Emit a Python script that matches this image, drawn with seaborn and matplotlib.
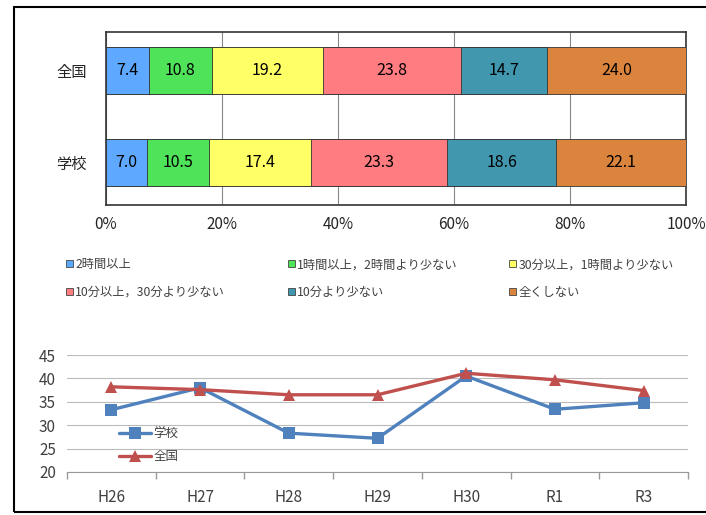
import matplotlib
matplotlib.use("Agg")
import matplotlib.pyplot as plt
import matplotlib.patches as mpatches
import seaborn as sns
import numpy as np
import pandas as pd

# ---- data ----
groups = ["全国", "学校"]
categories = ["2時間以上", "1時間以上，2時間より少ない", "30分以上，1時間より少ない",
              "10分以上，30分より少ない", "10分より少ない", "全くしない"]
zenkoku_vals = [7.4, 10.8, 19.2, 23.8, 14.7, 24.0]
gakko_vals = [7.0, 10.5, 17.4, 23.3, 18.6, 22.1]
seg_colors = ["#5EA8FF", "#4FE35A", "#FFFF66", "#FF7C80", "#4097AE", "#DB843D"]

years = ["H26", "H27", "H28", "H29", "H30", "R1", "R3"]
gakko_line = [33.3, 38.0, 28.3, 27.2, 40.5, 33.4, 34.8]
zenkoku_line = [38.2, 37.6, 36.5, 36.5, 41.1, 39.7, 37.4]

sns.set_theme(style="white")
plt.rcParams['font.family'] = ['Noto Sans CJK JP', 'DejaVu Sans']

fig = plt.figure(figsize=(7.06, 5.15), dpi=100)

# outer frame
fig.patches.append(mpatches.Rectangle((14/706, 3/515), 1.0, 1 - 10/515, transform=fig.transFigure,
                                      fill=False, edgecolor="black", linewidth=1.5))

# ---- top 100% stacked bar ----
ax1 = fig.add_axes([106/706, 1 - 205/515, 580/706, 173/515])
vals = np.array([zenkoku_vals, gakko_vals])
shares = vals / vals.sum(axis=1, keepdims=True) * 100
cum = np.cumsum(shares, axis=1)
for i in range(len(categories) - 1, -1, -1):
    df = pd.DataFrame({"group": groups, "value": cum[:, i]})
    sns.barplot(data=df, x="value", y="group", orient="h", color=seg_colors[i],
                width=0.51, saturation=1, edgecolor="#333333", linewidth=0.6, ax=ax1, zorder=3)
for gi in range(2):
    left = 0
    for i in range(len(categories)):
        w = shares[gi, i]
        ax1.text(left + w / 2, gi, f"{vals[gi, i]:.1f}", ha="center", va="center", fontsize=11.5,
                 color="black", zorder=5)
        left += w
ax1.set_xlim(0, 100)
ax1.set_ylim(1.46, -0.42)
ax1.set_xticks([0, 20, 40, 60, 80, 100])
ax1.set_xticklabels([f"{t}%" for t in [0, 20, 40, 60, 80, 100]], fontsize=11)
ax1.tick_params(axis="x", pad=8, length=0)
ax1.tick_params(axis="y", pad=14, length=0, labelsize=11)
ax1.set_xlabel("")
ax1.set_ylabel("")
ax1.grid(axis="x", color="#888888", linewidth=0.8, zorder=0)
ax1.set_axisbelow(True)
for s in ax1.spines.values():
    s.set_visible(True)
    s.set_color("#333333")
    s.set_linewidth(1.2)

# ---- legend (row-major, three columns) ----
handles = [mpatches.Patch(facecolor=c, edgecolor="#444444", linewidth=0.6) for c in seg_colors]
col_x = [60/706, 282/706, 503/706]
for c in range(3):
    idx = [c, c + 3]
    leg = fig.legend([handles[j] for j in idx], [categories[j] for j in idx],
                     loc="upper left", bbox_to_anchor=(col_x[c], 1 - 252/515),
                     frameon=False, fontsize=8.8, handlelength=0.55, handleheight=0.55,
                     handletextpad=0.2, labelspacing=1.2, borderpad=0)
    for t in leg.get_texts():
        t.set_color("#404040")

# ---- bottom line chart ----
ax2 = fig.add_axes([67/706, 1 - 472/515, 621/706, 117/515])
line_df = pd.DataFrame({
    "year": years * 2,
    "value": gakko_line + zenkoku_line,
    "group": ["学校"] * len(years) + ["全国"] * len(years),
})
sns.lineplot(data=line_df, x="year", y="value", hue="group", style="group",
             hue_order=["学校", "全国"], style_order=["学校", "全国"],
             palette={"学校": "#4F81BD", "全国": "#C0504D"},
             markers={"学校": "s", "全国": "^"}, dashes=False,
             linewidth=2.4, markersize=9, markeredgewidth=0, ax=ax2, sort=False)
ax2.set_xlim(-0.5, 6.5)
ax2.set_ylim(20, 45)
ax2.set_yticks([20, 25, 30, 35, 40, 45])
ax2.grid(axis="y", color="#BBBBBB", linewidth=0.8)
ax2.set_axisbelow(True)
ax2.set_xlabel("")
ax2.set_ylabel("")
for s in ["left", "right", "top"]:
    ax2.spines[s].set_visible(False)
ax2.spines["bottom"].set_color("#999999")
ax2.spines["bottom"].set_linewidth(0.8)
ax2.set_xticks(np.arange(-0.5, 7, 1), minor=True)
ax2.tick_params(axis="x", which="minor", length=5, color="#999999", direction="out", bottom=True)
ax2.tick_params(axis="x", which="major", length=0, pad=12, labelsize=11, labelcolor="#404040")
ax2.tick_params(axis="y", length=0, pad=8, labelsize=11, labelcolor="#404040")
leg2 = ax2.legend(loc="lower left", bbox_to_anchor=(0.065, -0.02), frameon=False, fontsize=9,
                  handlelength=2.6, handletextpad=0.2, labelspacing=0.75)
for t in leg2.get_texts():
    t.set_color("#404040")

fig.savefig("out.png", dpi=100)
